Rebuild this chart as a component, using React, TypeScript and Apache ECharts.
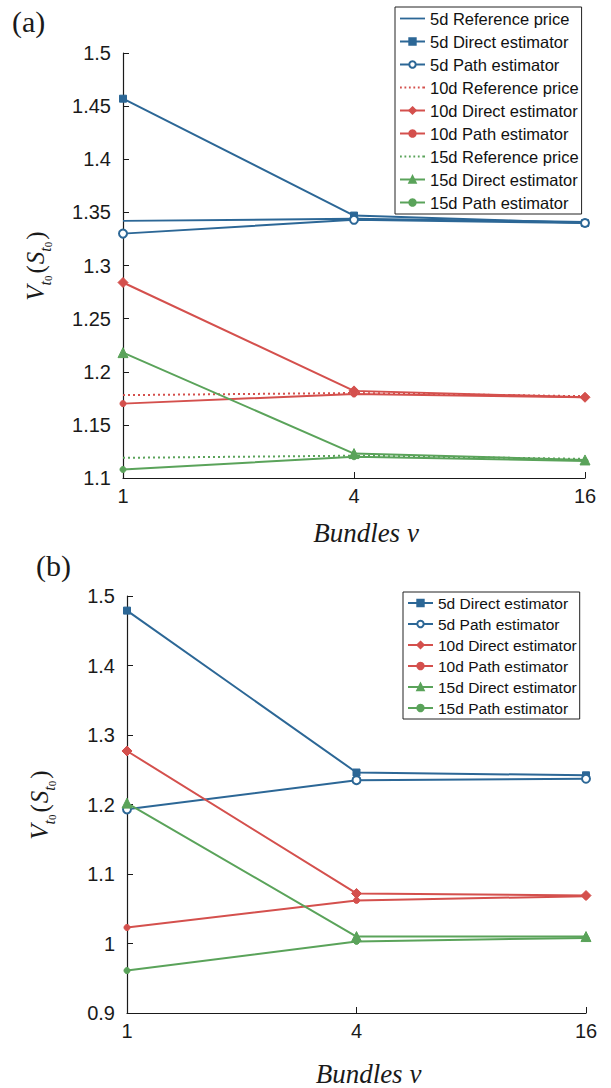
import React, { useEffect, useRef } from "react";
import * as echarts from "echarts";

const bundles = [1, 4, 16];
const xTickLabels = ["1", "4", "16"];

// Panel (a)
const a5dRef = [1.342, 1.344, 1.341];
const a5dDirect = [1.457, 1.347, 1.340];
const a5dPath = [1.330, 1.343, 1.340];
const a10dRef = [1.178, 1.180, 1.177];
const a10dDirect = [1.284, 1.182, 1.176];
const a10dPath = [1.170, 1.179, 1.176];
const a15dRef = [1.119, 1.121, 1.118];
const a15dDirect = [1.218, 1.123, 1.117];
const a15dPath = [1.108, 1.120, 1.116];

// Panel (b)
const b5dDirect = [1.479, 1.246, 1.242];
const b5dPath = [1.193, 1.235, 1.237];
const b10dDirect = [1.277, 1.072, 1.069];
const b10dPath = [1.023, 1.062, 1.068];
const b15dDirect = [1.202, 1.010, 1.010];
const b15dPath = [0.961, 1.003, 1.008];

const namesA = [
  "5d Reference price",
  "5d Direct estimator",
  "5d Path estimator",
  "10d Reference price",
  "10d Direct estimator",
  "10d Path estimator",
  "15d Reference price",
  "15d Direct estimator",
  "15d Path estimator",
];
const namesB = [
  "5d Direct estimator",
  "5d Path estimator",
  "10d Direct estimator",
  "10d Path estimator",
  "15d Direct estimator",
  "15d Path estimator",
];

const BLUE = "#2c6796";
const RED = "#d4504d";
const GREEN = "#5aa35a";

const SOLID_ICON = "path://M0,0h28v2h-28z";
const DOTTED_ICON = "path://M0,0h2v2h-2zM5,0h2v2h-2zM10,0h2v2h-2zM15,0h2v2h-2zM20,0h2v2h-2zM25,0h3v2h-3z";

const pts = (vals: number[]) => bundles.map((b, i) => [b, vals[i]]);

type Kind = "ref" | "direct" | "path";
function mk(name: string, vals: number[], color: string, kind: Kind, idx: number, dotted: boolean, sym: string) {
  const base: any = {
    type: "line",
    name,
    xAxisIndex: idx,
    yAxisIndex: idx,
    data: pts(vals),
    color,
    lineStyle: { color, width: 2, type: dotted ? [2, 3] : "solid" },
    z: kind === "ref" ? 2 : 3,
  };
  if (kind === "ref") {
    base.symbol = "none";
  } else {
    base.symbol = sym;
    const size = sym === "diamond" ? 10 : sym === "triangle" ? 10 : sym === "rect" ? 7 : sym === "emptyCircle" ? 8 : 6;
    base.symbolSize = size;
    base.itemStyle = { color, borderColor: color, borderWidth: sym === "emptyCircle" ? 1.5 : 1 };
  }
  return base;
}

const axisTxt = { color: "#1a1a1a", fontFamily: "Liberation Sans", fontSize: 20 };

const yName = "{v|V}{s|t}{z|0}{p|(}{v|S}{s|t}{z|0}{p|)}";
const yRich = {
  v: { fontFamily: "Liberation Serif", fontStyle: "italic", fontSize: 25, color: "#1a1a1a", lineHeight: 36, verticalAlign: "middle" },
  s: { fontFamily: "Liberation Serif", fontStyle: "italic", fontSize: 16, color: "#1a1a1a", lineHeight: 22, verticalAlign: "bottom" },
  z: { fontFamily: "Liberation Serif", fontSize: 11, color: "#1a1a1a", lineHeight: 11, verticalAlign: "bottom" },
  p: { fontFamily: "Liberation Serif", fontSize: 25, color: "#1a1a1a", lineHeight: 36, verticalAlign: "middle", padding: [0, 1, 0, 2] },
};

function xAx(gridIndex: number, nameGap: number) {
  return {
    type: "log",
    logBase: 4,
    gridIndex,
    min: 1,
    max: 16,
    name: "Bundles ν",
    nameLocation: "middle",
    nameGap,
    nameTextStyle: { fontFamily: "Liberation Serif", fontStyle: "italic", fontSize: 27, color: "#1a1a1a", padding: [0, 0, 0, 24] },
    axisLine: { show: true, lineStyle: { color: "#1a1a1a", width: 1.2 } },
    axisTick: { show: true, inside: true, length: 6, lineStyle: { color: "#1a1a1a" } },
    splitLine: { show: false },
    minorTick: { show: false },
    axisLabel: {
      ...axisTxt,
      margin: 8,
      formatter: (v: number) => {
        const i = bundles.indexOf(Math.round(v));
        return i >= 0 ? xTickLabels[i] : "";
      },
    },
  };
}

function yAx(gridIndex: number, min: number, max: number, interval: number) {
  return {
    type: "value",
    gridIndex,
    min,
    max,
    interval,
    name: yName,
    nameLocation: "middle",
    nameRotate: 90,
    nameGap: 70,
    nameTextStyle: { rich: yRich },
    axisLine: { show: true, lineStyle: { color: "#1a1a1a", width: 1.2 } },
    axisTick: { show: true, inside: true, length: 6, lineStyle: { color: "#1a1a1a" } },
    splitLine: { show: false },
    axisLabel: { ...axisTxt, margin: 12, formatter: (v: number) => String(parseFloat(v.toFixed(2))) },
  };
}

const legendBase = {
  orient: "vertical",
  backgroundColor: "#ffffff",
  borderColor: "#222",
  borderWidth: 1,
  borderRadius: 0,
  itemWidth: 25,
  itemHeight: 8,
  itemGap: 6,
  padding: [3, 3, 3, 4],
  textStyle: { fontFamily: "Liberation Sans", fontSize: 16.5, color: "#111" },
  selectedMode: false,
};

function legendData(names: string[]) {
  return names.map((n) =>
    n === "5d Reference price"
      ? { name: n, icon: SOLID_ICON }
      : n.indexOf("Reference") >= 0
      ? { name: n, icon: DOTTED_ICON }
      : { name: n }
  );
}

export default function App() {
  const ref = useRef<HTMLDivElement>(null);
  useEffect(() => {
    if (!ref.current) return;
    const chart = echarts.init(ref.current, null, { renderer: "svg" });
    const series = [
      mk(namesA[0], a5dRef, BLUE, "ref", 0, false, "none"),
      mk(namesA[1], a5dDirect, BLUE, "direct", 0, false, "rect"),
      mk(namesA[2], a5dPath, BLUE, "path", 0, false, "emptyCircle"),
      mk(namesA[3], a10dRef, RED, "ref", 0, true, "none"),
      mk(namesA[4], a10dDirect, RED, "direct", 0, false, "diamond"),
      mk(namesA[5], a10dPath, RED, "path", 0, false, "circle"),
      mk(namesA[6], a15dRef, GREEN, "ref", 0, true, "none"),
      mk(namesA[7], a15dDirect, GREEN, "direct", 0, false, "triangle"),
      mk(namesA[8], a15dPath, GREEN, "path", 0, false, "circle"),
      mk(namesB[0], b5dDirect, BLUE, "direct", 1, false, "rect"),
      mk(namesB[1], b5dPath, BLUE, "path", 1, false, "emptyCircle"),
      mk(namesB[2], b10dDirect, RED, "direct", 1, false, "diamond"),
      mk(namesB[3], b10dPath, RED, "path", 1, false, "circle"),
      mk(namesB[4], b15dDirect, GREEN, "direct", 1, false, "triangle"),
      mk(namesB[5], b15dPath, GREEN, "path", 1, false, "circle"),
    ];
    chart.setOption({
      animation: false,
      backgroundColor: "#ffffff",
      grid: [
        { left: 123, right: 26, top: 53, bottom: 610, containLabel: false },
        { left: 127, right: 25, top: 596, bottom: 72, containLabel: false },
      ],
      xAxis: [xAx(0, 41), xAx(1, 47)],
      yAxis: [yAx(0, 1.1, 1.5, 0.05), yAx(1, 0.9, 1.5, 0.1)],
      legend: [
        { ...legendBase, data: legendData(namesA), left: 395, top: 7 },
        { ...legendBase, data: legendData(namesB), left: 403, top: 592, itemGap: 5, textStyle: { ...legendBase.textStyle, fontSize: 15.5 } },
      ],
      graphic: [
        { type: "text", left: 12, top: 6, style: { text: "(a)", fontFamily: "Liberation Serif", fontSize: 30, fill: "#1a1a1a" } },
        { type: "text", left: 36, top: 550, style: { text: "(b)", fontFamily: "Liberation Serif", fontSize: 30, fill: "#1a1a1a" } },
      ],
      series,
    });
    return () => chart.dispose();
  }, []);
  return <div ref={ref} style={{ position: "fixed", left: 0, top: 0, width: 611, height: 1088 }} />;
}
